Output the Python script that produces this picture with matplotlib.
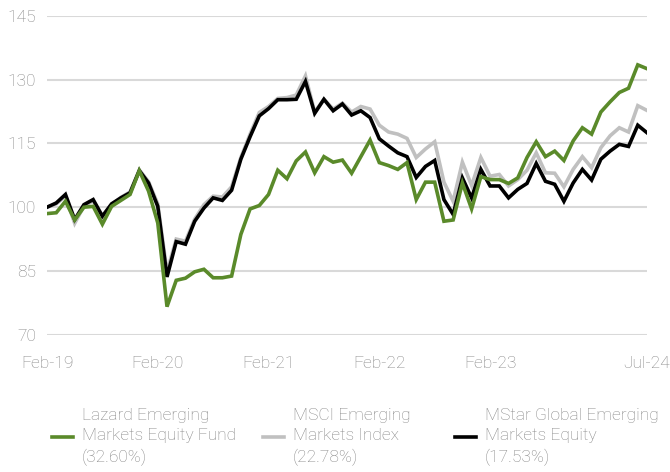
import numpy as np
import matplotlib.pyplot as plt
from matplotlib.lines import Line2D

plt.rcParams['font.family'] = ['Roboto', 'DejaVu Sans']
plt.rcParams['font.weight'] = 'light'

# monthly index values, Feb-19 .. Jul-24 (66 months)
lazard = [98.5, 98.7, 101.4, 97.0, 100.0, 100.2, 96.0, 100.2, 101.6, 103.0,
          108.6, 103.8, 96.3, 76.6, 82.8, 83.3, 84.8, 85.4, 83.4, 83.4,
          83.8, 93.6, 99.6, 100.4, 103.0, 108.7, 106.7, 110.9, 113.0, 108.1,
          111.9, 110.6, 111.1, 108.0, 111.9, 115.8, 110.5, 109.8, 108.9, 110.5,
          101.8, 105.9, 105.9, 96.7, 97.0, 105.7, 99.6, 107.2, 106.5, 106.5,
          105.6, 106.9, 111.7, 115.4, 111.9, 113.2, 111.0, 115.6, 118.7, 117.2,
          122.4, 124.8, 127.0, 128.0, 133.5, 132.6]
msci = [100.0, 100.8, 102.6, 96.2, 100.3, 101.5, 97.3, 100.6, 102.3, 103.6,
        108.8, 106.0, 100.8, 84.8, 92.5, 92.0, 97.2, 100.6, 102.6, 102.4,
        104.8, 111.7, 117.2, 122.3, 123.7, 125.6, 125.8, 126.4, 130.9, 122.4,
        125.4, 123.1, 124.5, 122.4, 123.7, 123.1, 119.3, 117.7, 117.2, 116.2,
        111.7, 113.7, 115.4, 105.9, 101.4, 110.6, 105.1, 111.7, 107.3, 107.7,
        105.0, 106.5, 108.7, 112.8, 108.1, 108.0, 104.8, 108.9, 111.9, 109.3,
        114.0, 116.8, 118.7, 117.7, 123.9, 122.78]
mstar = [100.0, 101.0, 103.0, 97.1, 100.6, 101.8, 97.9, 100.8, 102.2, 103.4,
         108.6, 105.7, 100.2, 83.6, 91.9, 91.3, 96.7, 99.8, 102.2, 101.6,
         104.0, 111.3, 116.6, 121.5, 123.2, 125.3, 125.3, 125.4, 129.6, 122.1,
         125.4, 122.7, 124.3, 121.7, 122.7, 121.1, 116.1, 114.4, 112.8, 111.9,
         107.0, 109.6, 111.0, 101.8, 98.3, 106.9, 102.2, 108.9, 105.0, 105.0,
         102.2, 104.2, 105.6, 110.3, 106.1, 105.4, 101.4, 105.7, 108.9, 106.4,
         111.3, 113.2, 114.8, 114.3, 119.3, 117.53]

tick_pos = [0, 12, 24, 36, 48, 65]
tick_labels = ['Feb-19', 'Feb-20', 'Feb-21', 'Feb-22', 'Feb-23', 'Jul-24']
yticks = [70, 85, 100, 115, 130, 145]

names = ['Lazard Emerging\nMarkets Equity Fund\n(32.60%)',
         'MSCI Emerging\nMarkets Index\n(22.78%)',
         'MStar Global Emerging\nMarkets Equity\n(17.53%)']

green = '#5a8a2a'
grey = '#c0c0c0'
txt = '#858585'
fs = 12.5

fig = plt.figure(figsize=(6.7, 4.72), dpi=100)
ax = fig.add_axes([47/670, (472-334.7)/472, 600/670, 318.7/472])

x = np.arange(len(lazard))
l2, = ax.plot(x, msci, color=grey, lw=2.6, zorder=3, solid_joinstyle='miter')
l3, = ax.plot(x, mstar, color='black', lw=2.6, zorder=4, solid_joinstyle='miter')
l1, = ax.plot(x, lazard, color=green, lw=2.6, zorder=5, solid_joinstyle='miter')

ax.set_xlim(0, 65)
ax.set_ylim(70, 145)
ax.set_yticks(yticks)
ax.set_xticks(tick_pos)
ax.set_xticklabels(tick_labels)
ax.grid(axis='y', color='#d9d9d9', lw=1.5)
ax.set_axisbelow(True)
for s in ax.spines.values():
    s.set_visible(False)
ax.tick_params(length=0, labelsize=fs, labelcolor=txt)
ax.tick_params(axis='y', pad=8)
ax.tick_params(axis='x', pad=15)

# separate legends so each entry sits where it does in the original
for line, name, px in zip([l1, l2, l3], names, [52, 263, 455]):
    h = Line2D([], [], color=line.get_color(), lw=2.6)
    leg = fig.legend([h], [name], loc='center left',
                     bbox_to_anchor=(px/670, (472-437)/472), frameon=False,
                     borderpad=0, borderaxespad=0, fontsize=fs,
                     handlelength=1.2, handletextpad=0.5)
    for t in leg.get_texts():
        t.set_color(txt)
        t.set_linespacing(1.45)

fig.savefig('out.png', dpi=100)
